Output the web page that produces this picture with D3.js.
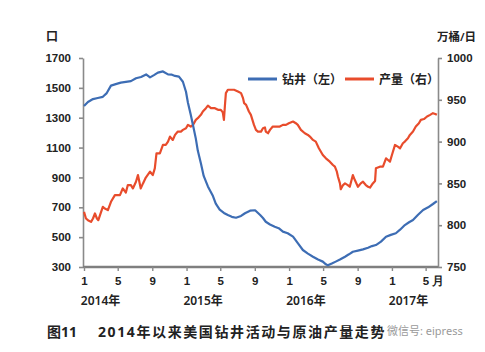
<!DOCTYPE html>
<html>
<head>
<meta charset="utf-8">
<script src="https://cdn.jsdelivr.net/npm/d3@7"></script>
<style>
  body { margin: 0; background: #fff; }
  svg { display: block; font-family: "Noto Sans", "Noto Sans CJK SC", sans-serif; }
</style>
</head>
<body>
<svg id="chart" width="485" height="352"></svg>
<script>
// rig count (left axis)
const rigDates = [
  "2014-01-01","2014-01-15","2014-02-02","2014-02-19","2014-03-09","2014-03-23","2014-04-07","2014-04-24",
  "2014-05-12","2014-05-30","2014-06-17","2014-07-05","2014-07-23","2014-08-10","2014-08-24","2014-09-07",
  "2014-09-21","2014-10-09","2014-10-27","2014-11-10","2014-11-21","2014-12-05","2014-12-19","2014-12-30",
  "2015-01-06","2015-01-16","2015-01-24","2015-02-03","2015-02-10","2015-02-21","2015-03-03","2015-03-18",
  "2015-04-05","2015-04-15","2015-04-29","2015-05-14","2015-05-28","2015-06-11","2015-06-26","2015-07-14",
  "2015-07-28","2015-08-15","2015-09-02","2015-09-20","2015-09-30","2015-10-10","2015-10-25","2015-11-11",
  "2015-11-25","2015-12-10","2015-12-27","2016-01-15","2016-02-01","2016-02-19","2016-03-08","2016-03-26",
  "2016-04-13","2016-04-30","2016-05-11","2016-05-18","2016-06-01","2016-06-15","2016-06-30","2016-07-18",
  "2016-08-01","2016-08-15","2016-09-02","2016-09-20","2016-10-08","2016-10-22","2016-11-05","2016-11-23",
  "2016-12-11","2016-12-28","2017-01-15","2017-01-30","2017-02-16","2017-03-03","2017-03-17","2017-04-04",
  "2017-04-22","2017-05-10","2017-05-27","2017-06-10"
];
const rigValues = [
  1378, 1405, 1425, 1432, 1440, 1465, 1515, 1525,
  1535, 1540, 1545, 1564, 1573, 1590, 1570, 1585,
  1602, 1610, 1590, 1588, 1580, 1575, 1541, 1474,
  1400, 1320, 1250, 1160, 1080, 995, 910, 840,
  775, 725, 684, 662, 648, 636, 630, 642,
  660, 677, 680, 648, 628, 603, 585, 570,
  560, 537, 526, 503, 460, 414, 390, 369,
  350, 336, 318, 311, 323, 336, 350, 369,
  385, 402, 410, 418, 429, 440, 447, 470,
  503, 515, 526, 550, 581, 600, 615, 650,
  682, 700, 722, 742
];

// crude oil output (right axis)
const prodDates = [
  "2014-01-01","2014-01-08","2014-01-15","2014-01-26","2014-02-02","2014-02-09","2014-02-16","2014-02-21",
  "2014-02-27","2014-03-09","2014-03-16","2014-03-27","2014-04-07","2014-04-21","2014-05-02","2014-05-09",
  "2014-05-19","2014-05-30","2014-06-06","2014-06-17","2014-06-24","2014-07-05","2014-07-12","2014-07-22",
  "2014-07-30","2014-08-09","2014-08-24","2014-09-03","2014-09-10","2014-09-16","2014-09-28","2014-10-09",
  "2014-10-19","2014-10-27","2014-11-03","2014-11-13","2014-11-21","2014-12-01","2014-12-12","2014-12-19",
  "2014-12-30","2015-01-06","2015-01-16","2015-01-24","2015-02-03","2015-02-10","2015-02-21","2015-02-28",
  "2015-03-11","2015-03-18","2015-03-29","2015-04-12","2015-04-23","2015-05-03","2015-05-10","2015-05-14",
  "2015-05-18","2015-05-21","2015-05-28","2015-06-08","2015-06-19","2015-07-03","2015-07-14","2015-07-21",
  "2015-07-25","2015-08-01","2015-08-11","2015-08-18","2015-08-29","2015-09-05","2015-09-12","2015-09-23",
  "2015-09-30","2015-10-07","2015-10-10","2015-10-18","2015-10-25","2015-11-04","2015-11-15","2015-11-29",
  "2015-12-10","2015-12-21","2015-12-31","2016-01-15","2016-01-25","2016-02-01","2016-02-12","2016-02-26",
  "2016-03-08","2016-03-15","2016-03-26","2016-04-05","2016-04-16","2016-04-30","2016-05-11","2016-05-25",
  "2016-06-05","2016-06-12","2016-06-19","2016-06-23","2016-06-30","2016-07-03","2016-07-11","2016-07-18",
  "2016-07-28","2016-08-04","2016-08-15","2016-08-22","2016-09-02","2016-09-12","2016-09-20","2016-09-30",
  "2016-10-08","2016-10-15","2016-10-25","2016-11-02","2016-11-05","2016-11-19","2016-11-30","2016-12-11",
  "2016-12-18","2016-12-25","2017-01-01","2017-01-12","2017-01-22","2017-01-30","2017-02-09","2017-02-16",
  "2017-02-27","2017-03-06","2017-03-17","2017-03-27","2017-04-07","2017-04-14","2017-04-25","2017-05-06",
  "2017-05-17","2017-05-27","2017-06-04","2017-06-10"
];
const prodValues = [
  816, 808, 806, 804, 808, 814, 808, 806,
  812, 822, 820, 818, 828, 836, 836, 836,
  844, 839, 848, 848, 844, 852, 860, 844,
  850, 857, 864, 860, 868, 886, 886, 896,
  896, 900, 906, 902, 908, 912, 912, 914,
  916, 920, 918, 920, 926, 928, 932, 936,
  940, 943, 940, 940, 938, 938, 935, 926,
  945, 958, 962, 962, 962, 960, 958, 952,
  946, 944, 936, 932, 920, 914, 912, 912,
  916, 917, 912, 910, 914, 918, 918, 918,
  920, 920, 922, 924, 922, 920, 914, 910,
  908, 906, 902, 900, 892, 884, 880, 876,
  872, 870, 864, 858, 850, 843, 848, 850,
  848, 846, 860, 854, 846, 850, 852, 848,
  846, 845, 850, 853, 868, 870, 870, 880,
  878, 876, 884, 896, 894, 892, 898, 900,
  904, 908, 912, 918, 922, 926, 927, 930,
  932, 934, 933, 932
];

const leftTicks = [300, 500, 700, 900, 1100, 1300, 1500, 1700];
const rightTicks = [750, 800, 850, 900, 950, 1000];
const yearLabels = ["2014年", "2015年", "2016年", "2017年"];
const seriesNames = ["钻井（左）", "产量（右）"];

const parse = d3.timeParse("%Y-%m-%d");
const rig = rigDates.map((d, i) => ({ date: parse(d), value: rigValues[i] }));
const prod = prodDates.map((d, i) => ({ date: parse(d), value: prodValues[i] }));

const blue = "#3d6db4";
const red = "#e84c2c";
const axisGrey = "#8a8a8a";
const textColor = "#222";

const svg = d3.select("#chart");

const x = d3.scaleTime()
  .domain([new Date(2014, 0, 1), new Date(2017, 5, 14)])
  .range([84, 438]);
const yL = d3.scaleLinear().domain([300, 1700]).range([267, 58]);
const yR = d3.scaleLinear().domain([750, 1000]).range([267, 58]);

// left axis
const gL = svg.append("g")
  .attr("transform", "translate(83,0)")
  .call(d3.axisLeft(yL).tickValues(leftTicks).tickSize(4).tickSizeOuter(0).tickPadding(8)
    .tickFormat(d3.format("d")));
// right axis
const gR = svg.append("g")
  .attr("transform", "translate(438,0)")
  .call(d3.axisRight(yR).tickValues(rightTicks).tickSize(4).tickSizeOuter(0).tickPadding(5)
    .tickFormat(d3.format("d")));

[gL, gR].forEach(g => {
  g.select(".domain").attr("stroke", axisGrey).attr("stroke-width", 1.6);
  g.selectAll(".tick line").attr("stroke", axisGrey).attr("stroke-width", 1.6);
  g.selectAll(".tick text")
    .attr("fill", textColor)
    .style("font-size", "11.5px")
    .style("font-weight", "600");
});

// bottom axis
const monthTicks = d3.timeMonth.every(4).range(new Date(2014, 0, 1), new Date(2017, 5, 2));
const gB = svg.append("g")
  .attr("transform", "translate(0,267)")
  .call(d3.axisBottom(x).tickValues(monthTicks).tickSize(4).tickSizeOuter(0).tickPadding(6)
    .tickFormat(d => d.getMonth() + 1));
gB.select(".domain").attr("stroke", "#7f7f7f").attr("stroke-width", 2.6)
  .attr("d", "M83,0H438");
gB.selectAll(".tick line").attr("stroke", axisGrey).attr("stroke-width", 1.4);
gB.selectAll(".tick text")
  .attr("fill", textColor)
  .style("font-size", "11.5px")
  .style("font-weight", "600");
gB.selectAll(".tick text")
  .filter((d, i, n) => i === n.length - 1)
  .attr("text-anchor", "start")
  .attr("dx", "-3.5px")
  .text(d => (d.getMonth() + 1) + " 月");

// year labels
svg.append("g").selectAll("text")
  .data(yearLabels)
  .join("text")
  .attr("x", (d, i) => x(new Date(2014 + i, 2, 1)))
  .attr("y", 305)
  .attr("text-anchor", "middle")
  .attr("fill", textColor)
  .style("font-size", "12px")
  .style("font-weight", "600")
  .text(d => d);

// unit labels
svg.append("text").attr("x", 52).attr("y", 41).attr("text-anchor", "middle")
  .attr("fill", textColor).style("font-size", "12px").style("font-weight", "600").text("口");
svg.append("text").attr("x", 437).attr("y", 41)
  .attr("fill", textColor).style("font-size", "11.5px").style("font-weight", "600").text("万桶/日");

// lines
const lineL = d3.line().x(d => x(d.date)).y(d => yL(d.value));
const lineR = d3.line().x(d => x(d.date)).y(d => yR(d.value));

svg.append("path").datum(prod)
  .attr("fill", "none").attr("stroke", red).attr("stroke-width", 2.2)
  .attr("stroke-linejoin", "round").attr("d", lineR);
svg.append("path").datum(rig)
  .attr("fill", "none").attr("stroke", blue).attr("stroke-width", 2.2)
  .attr("stroke-linejoin", "round").attr("d", lineL);

// legend
const legend = svg.append("g");
const legendX = [248, 345];
[blue, red].forEach((c, i) => {
  legend.append("line")
    .attr("x1", legendX[i]).attr("x2", legendX[i] + 29)
    .attr("y1", 79).attr("y2", 79)
    .attr("stroke", c).attr("stroke-width", 3);
  legend.append("text")
    .attr("x", legendX[i] + 34).attr("y", 83.5)
    .attr("fill", textColor)
    .style("font-size", "12px")
    .style("font-weight", "600")
    .text(seriesNames[i]);
});

// caption + watermark
svg.append("text").attr("x", 47).attr("y", 337)
  .attr("fill", textColor).style("font-size", "14px").style("font-weight", "700")
  .text("图11");
svg.append("text").attr("x", 98).attr("y", 337)
  .attr("fill", textColor).style("font-size", "14px").style("font-weight", "700")
  .style("letter-spacing", "1.6px")
  .text("2014年以来美国钻井活动与原油产量走势");
svg.append("text").attr("x", 387).attr("y", 335)
  .attr("fill", "#9a9a9a").style("font-size", "11px")
  .text("微信号: eipress");
</script>
</body>
</html>
